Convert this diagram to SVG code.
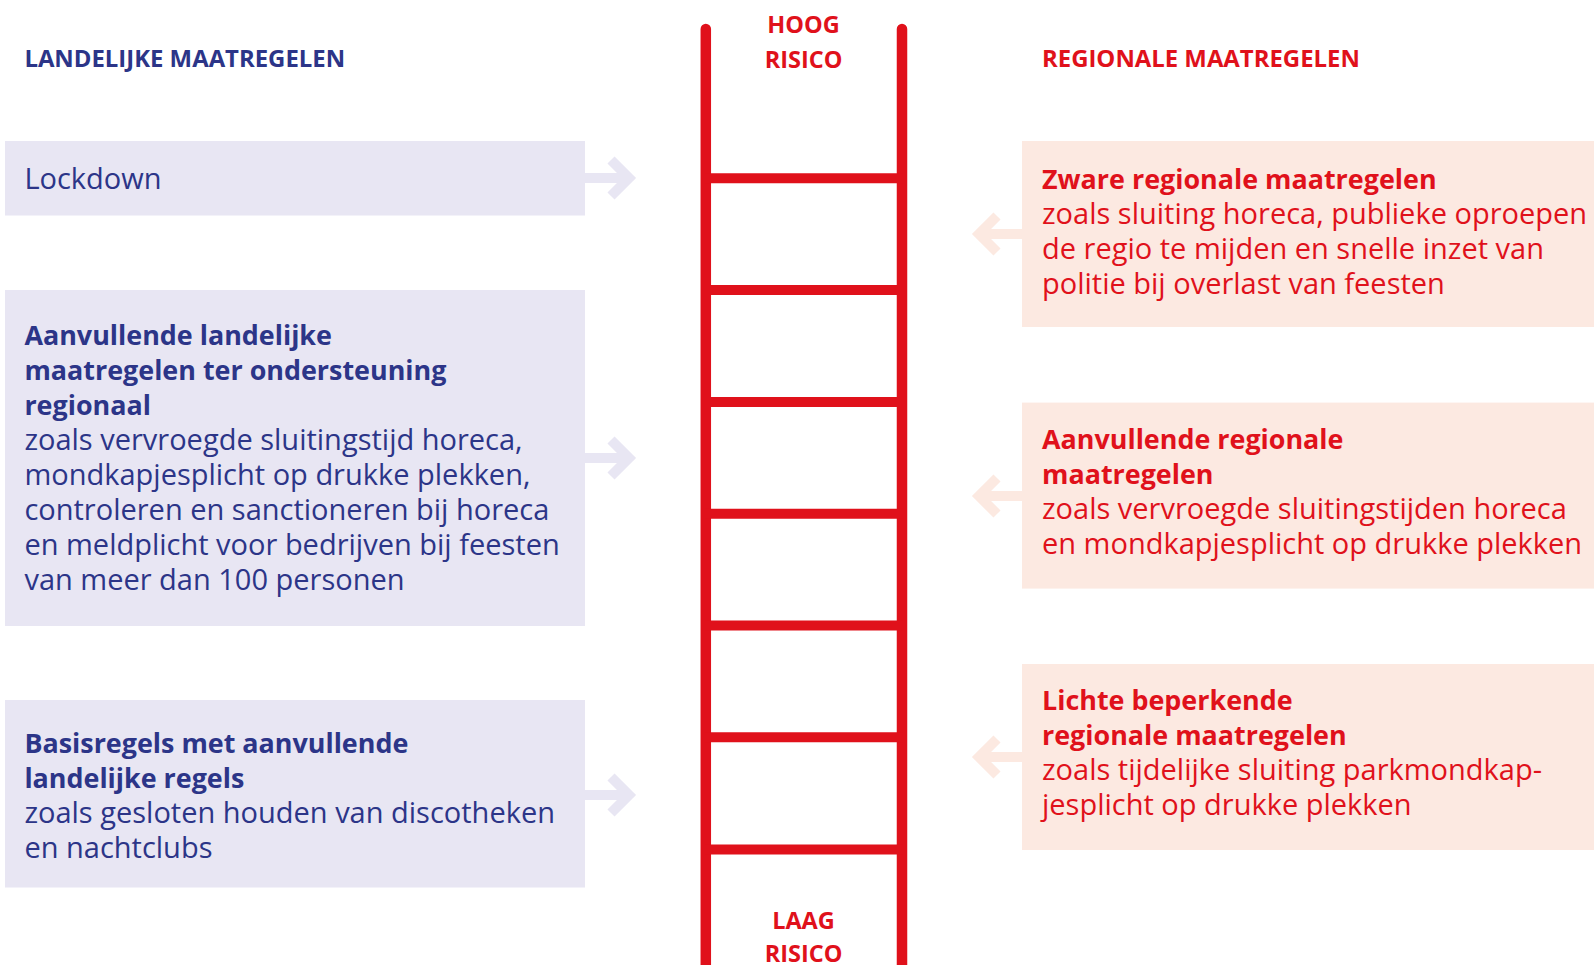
<svg xmlns="http://www.w3.org/2000/svg" width="1594" height="965" viewBox="0 0 1594 965">
<style>
.hdr{font-family:"Open Sans","Noto Sans",sans-serif;font-weight:700;font-size:23.5px}
.sh{font-size:23.9px}
.t{font-family:"Open Sans","Noto Sans",sans-serif;font-size:29px}
.b{font-weight:700;font-size:26.9px}
.navy{fill:#2c3588}
.red{fill:#e0111b}
.lbox{fill:#e8e6f3}
.rbox{fill:#fce9e1}
.la{stroke:#e8e6f3;stroke-width:10;fill:none;stroke-linejoin:miter}
.ra{stroke:#fce9e1;stroke-width:10;fill:none;stroke-linejoin:miter}
.rail{stroke:#e0111b;stroke-width:10.5;fill:none;stroke-linecap:round}
.rung{stroke:#e0111b;stroke-width:10;fill:none}
</style>
<rect width="1594" height="965" fill="#ffffff"/>
<g id="ladder">
<line class="rail" x1="705.8" y1="29" x2="705.8" y2="975"/>
<line class="rail" x1="902" y1="29" x2="902" y2="975"/>
<line class="rung" x1="705" y1="178.3" x2="903" y2="178.3"/>
<line class="rung" x1="705" y1="290.1" x2="903" y2="290.1"/>
<line class="rung" x1="705" y1="401.9" x2="903" y2="401.9"/>
<line class="rung" x1="705" y1="513.7" x2="903" y2="513.7"/>
<line class="rung" x1="705" y1="625.5" x2="903" y2="625.5"/>
<line class="rung" x1="705" y1="737.3" x2="903" y2="737.3"/>
<line class="rung" x1="705" y1="849.6" x2="903" y2="849.6"/>
<text class="hdr red" text-anchor="middle" x="803.5" y="33">HOOG</text>
<text class="hdr red" text-anchor="middle" x="803.5" y="68">RISICO</text>
<text class="hdr red" text-anchor="middle" x="803.5" y="929">LAAG</text>
<text class="hdr red" text-anchor="middle" x="803.5" y="962">RISICO</text>
</g>
<g id="header-landelijk"><text class="hdr sh navy" x="24.4" y="67">LANDELIJKE MAATREGELEN</text></g>
<g id="header-regionaal"><text class="hdr sh red" x="1042" y="67">REGIONALE MAATREGELEN</text></g>
<g id="lockdown">
<rect class="lbox" x="5" y="141" width="580" height="74.5"/>
<text class="t navy" x="24.4" y="189">Lockdown</text>
</g>
<g id="aanvullend-landelijk">
<rect class="lbox" x="5" y="290" width="580" height="336"/>
<text class="t navy" x="24.4">
<tspan class="b" x="24.4" y="344.5">Aanvullende landelijke</tspan>
<tspan class="b" x="24.4" y="379.5">maatregelen ter ondersteuning</tspan>
<tspan class="b" x="24.4" y="414.5">regionaal</tspan>
<tspan x="24.4" y="449.5">zoals vervroegde sluitingstijd horeca,</tspan>
<tspan x="24.4" y="484.5">mondkapjesplicht op drukke plekken,</tspan>
<tspan x="24.4" y="519.5">controleren en sanctioneren bij horeca</tspan>
<tspan x="24.4" y="554.5">en meldplicht voor bedrijven bij feesten</tspan>
<tspan x="24.4" y="589.5">van meer dan 100 personen</tspan>
</text>
</g>
<g id="basisregels">
<rect class="lbox" x="5" y="700" width="580" height="187.5"/>
<text class="t navy">
<tspan class="b" x="24.4" y="753">Basisregels met aanvullende</tspan>
<tspan class="b" x="24.4" y="788">landelijke regels</tspan>
<tspan x="24.4" y="823">zoals gesloten houden van discotheken</tspan>
<tspan x="24.4" y="858">en nachtclubs</tspan>
</text>
</g>
<g id="zware-regionaal">
<rect class="rbox" x="1022" y="141" width="572" height="186"/>
<text class="t red">
<tspan class="b" x="1042" y="189">Zware regionale maatregelen</tspan>
<tspan x="1042" y="224">zoals sluiting horeca, publieke oproepen</tspan>
<tspan x="1042" y="259">de regio te mijden en snelle inzet van</tspan>
<tspan x="1042" y="294">politie bij overlast van feesten</tspan>
</text>
</g>
<g id="aanvullend-regionaal">
<rect class="rbox" x="1022" y="402.6" width="572" height="186"/>
<text class="t red">
<tspan class="b" x="1042" y="449">Aanvullende regionale</tspan>
<tspan class="b" x="1042" y="484">maatregelen</tspan>
<tspan x="1042" y="519">zoals vervroegde sluitingstijden horeca</tspan>
<tspan x="1042" y="554">en mondkapjesplicht op drukke plekken</tspan>
</text>
</g>
<g id="lichte-regionaal">
<rect class="rbox" x="1022" y="664" width="572" height="186"/>
<text class="t red">
<tspan class="b" x="1042" y="710">Lichte beperkende</tspan>
<tspan class="b" x="1042" y="745">regionale maatregelen</tspan>
<tspan x="1042" y="780">zoals tijdelijke sluiting parkmondkap-</tspan>
<tspan x="1042" y="815">jesplicht op drukke plekken</tspan>
</text>
</g>
<g id="connectors">
<line class="la" x1="585" y1="178" x2="626" y2="178"/>
<polyline class="la" points="611,160 629,178 611,196"/>
<line class="la" x1="585" y1="458" x2="626" y2="458"/>
<polyline class="la" points="611,440 629,458 611,476"/>
<line class="la" x1="585" y1="795" x2="626" y2="795"/>
<polyline class="la" points="611,777 629,795 611,813"/>
<line class="ra" x1="1022" y1="234" x2="982" y2="234"/>
<polyline class="ra" points="997,216 979,234 997,252"/>
<line class="ra" x1="1022" y1="496" x2="982" y2="496"/>
<polyline class="ra" points="997,478 979,496 997,514"/>
<line class="ra" x1="1022" y1="757" x2="982" y2="757"/>
<polyline class="ra" points="997,739 979,757 997,775"/>
</g>
</svg>
